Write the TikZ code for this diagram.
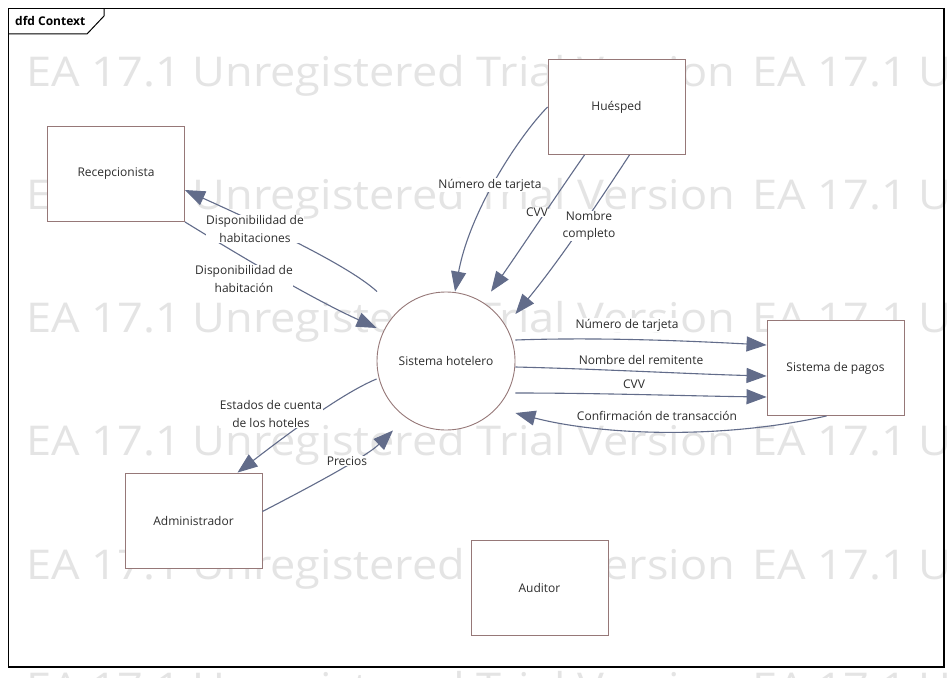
\documentclass[tikz,border=0pt]{standalone}
\usepackage{fontspec}
\setmainfont{Open Sans}
\usetikzlibrary{arrows.meta}
\definecolor{flow}{RGB}{98,108,138}
\definecolor{boxc}{RGB}{150,120,120}
\definecolor{wm}{RGB}{228,228,228}
\definecolor{txt}{RGB}{45,45,45}
\begin{document}
\begin{tikzpicture}[x=1pt,y=-1pt,
  ent/.style={draw=boxc, fill=white, minimum width=137pt, minimum height=95pt, inner sep=0pt, line width=0.9pt, font=\fontsize{12}{14}\selectfont, text=txt},
  proc/.style={circle, draw=boxc, fill=white, minimum size=138pt, inner sep=0pt, line width=0.9pt, font=\fontsize{12}{14}\selectfont, text=txt},
  flowline/.style={draw=flow, line width=1.1pt, -{Triangle[length=20pt,width=15pt]}},
  lbl/.style={fill=white, inner sep=0.5pt, font=\fontsize{12}{17.5}\selectfont, align=center, text=txt},
  wmark/.style={text=wm, font=\fontsize{41}{45}\selectfont, anchor=base west, inner sep=0pt}]
\useasboundingbox (0,0) rectangle (952,677);
\fill[white] (0,0) rectangle (952,677);
\begin{scope}
\clip (0,0) rectangle (952,677);
\foreach \yy [count=\i] in {86,209,332.5,455.5,579,702}{
  \node[wmark] (wa\i) at (26,\yy) {\scalebox{1.1}[1]{EA 17.1 Unregistered Trial Version}};
  \node[wmark] (wb\i) at (752,\yy) {\scalebox{1.1}[1]{EA 17.1 Unregistered}};
}
\end{scope}
% frame
\draw[line width=1.2pt] (8.5,8.5) rectangle (944,667);
\draw[line width=1pt] (8.5,34) -- (87,34) -- (104,16) -- (104,8.5);
\node[anchor=west, inner sep=0pt, font=\bfseries\fontsize{12}{14}\selectfont] (title) at (15,20.5) {dfd Context};
% nodes
\node[ent] (re) at (116,174) {Recepcionista};
\node[ent] (hu) at (616.5,107) {Huésped};
\node[proc] (sh) at (446,361) {Sistema hotelero};
\node[ent] (pg) at (835.5,368) {Sistema de pagos};
\node[ent] (ad) at (193.5,520.5) {Administrador};
\node[ent] (au) at (539.5,588) {Auditor};
% flows from Huesped
\draw[flowline] (hu.west) .. controls (520,135) and (470,210) .. ([xshift=9pt]sh.north);
\draw[flowline] ([xshift=-32pt]hu.south) .. controls (560,190) and (520,250) .. ([xshift=45pt]sh.north);
\draw[flowline] ([xshift=13pt]hu.south) .. controls (600,200) and (560,260) .. ([yshift=47pt]sh.east);
% recepcionista
\draw[flowline] ([xshift=-69pt]sh.north) .. controls (345,262) and (240,215) .. ([yshift=-16pt]re.east);
\draw[flowline] (re.south east) .. controls (250,262) and (315,300) .. ([yshift=33pt]sh.west);
% pagos
\draw[flowline] ([yshift=21pt]sh.east) .. controls (600,337) and (690,341) .. ([yshift=23pt]pg.west);
\draw[flowline] ([yshift=-6pt]sh.east) .. controls (600,369) and (690,374) .. ([yshift=-8pt]pg.west);
\draw[flowline] ([yshift=-32pt]sh.east) .. controls (600,393) and (690,396) .. ([yshift=-29pt]pg.west);
\draw[flowline] ([xshift=-9pt]pg.south) .. controls (720,440) and (600,435) .. ([yshift=-52pt]sh.east);
% administrador
\draw[flowline] ([yshift=-18pt]sh.west) .. controls (340,394) and (280,440) .. ([xshift=44pt]ad.north);
\draw[flowline] ([yshift=9pt]ad.east) .. controls (300,492) and (365,458) .. ([xshift=-53pt]sh.south);
% labels
\node[lbl] (l1) at (490,185) {Número de tarjeta};
\node[lbl] (l2) at (537,212) {CVV};
\node[lbl] (l3) at (589,226) {Nombre\\completo};
\node[lbl] (l4) at (255,229) {Disponibilidad de\\habitaciones};
\node[lbl] (l5) at (244,279) {Disponibilidad de\\habitación};
\node[lbl] (l6) at (627,325) {Número de tarjeta};
\node[lbl] (l7) at (641,360) {Nombre del remitente};
\node[lbl] (l8) at (634,384) {CVV};
\node[lbl] (l9) at (657,416) {Confirmación de transacción};
\node[lbl] (l10) at (271,414) {Estados de cuenta\\de los hoteles};
\node[lbl] (l11) at (347,461) {Precios};
\end{tikzpicture}
\end{document}
